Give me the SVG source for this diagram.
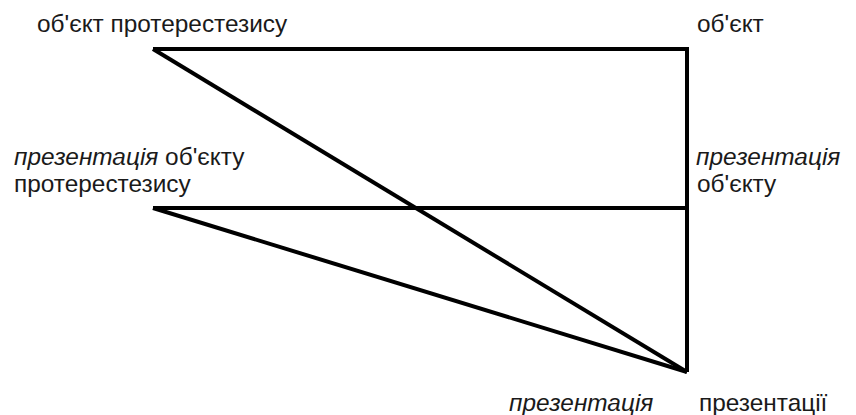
<svg xmlns="http://www.w3.org/2000/svg" width="856" height="415" viewBox="0 0 856 415">
<style>
text{font-family:"Liberation Sans",Arial,sans-serif;font-size:24.4px;fill:#1a1a1a}
.i{font-style:italic}
.l{stroke:#000;stroke-width:4;fill:none;stroke-linejoin:miter}
</style>
<rect width="856" height="415" fill="#fff"/>
<g id="connectors">
<path class="l" d="M153,49 H687 V372"/>
<line class="l" x1="153" y1="49" x2="687" y2="372"/>
<line class="l" x1="153" y1="208" x2="687" y2="208"/>
<line class="l" x1="153" y1="208" x2="687" y2="372"/>
</g>
<g id="n1"><text x="37" y="32">об'єкт протерестезису</text></g>
<g id="n2"><text x="697" y="32">об'єкт</text></g>
<g id="n3"><text x="14" y="165"><tspan class="i">презентація</tspan> об'єкту</text><text x="14" y="192">протерестезису</text></g>
<g id="n4"><text x="696" y="165" class="i">презентація</text><text x="697" y="192">об'єкту</text></g>
<g id="n5"><text x="509" y="411" class="i">презентація</text></g>
<g id="n6"><text x="699" y="411">презентації</text></g>
</svg>
